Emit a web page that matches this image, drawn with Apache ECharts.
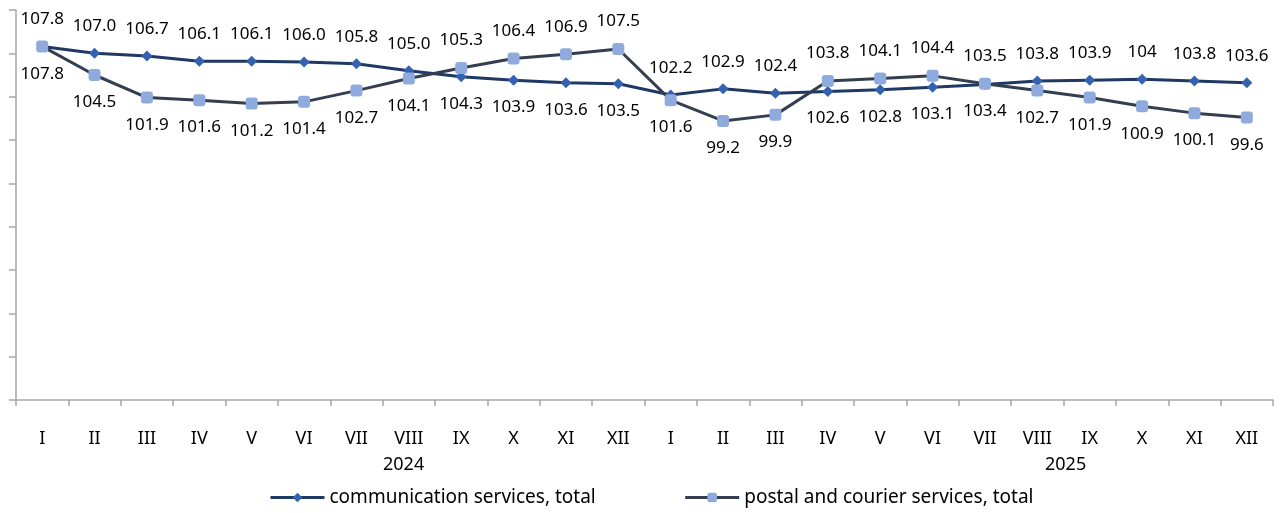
<!DOCTYPE html>
<html>
<head>
<meta charset="utf-8">
<script src="https://cdn.jsdelivr.net/npm/echarts@6/dist/echarts.min.js"></script>
<style>
  html, body { margin: 0; padding: 0; background: #fff; }
  #main { width: 1284px; height: 513px; }
</style>
</head>
<body>
<div id="main"></div>
<script>
var months = ['I', 'II', 'III', 'IV', 'V', 'VI', 'VII', 'VIII', 'IX', 'X', 'XI', 'XII'];
var years = ['2024', '2025'];

var commServices = [107.8, 107.0, 106.7, 106.1, 106.1, 106.0, 105.8, 105.0, 104.3, 103.9, 103.6, 103.5,
                    102.2, 102.9, 102.4, 102.6, 102.8, 103.1, 103.4, 103.8, 103.9, 104.0, 103.8, 103.6];
var postalServices = [107.8, 104.5, 101.9, 101.6, 101.2, 101.4, 102.7, 104.1, 105.3, 106.4, 106.9, 107.5,
                      101.6, 99.2, 99.9, 103.8, 104.1, 104.4, 103.5, 102.7, 101.9, 100.9, 100.1, 99.6];

var seriesNames = ['communication services, total', 'postal and courier services, total'];

// x categories kept unique (month + year), only the month is shown
var xData = [];
years.forEach(function (y) {
  months.forEach(function (m) { xData.push(m + ' ' + y); });
});

function fmt(v) {
  // the source prints 104.0 as "104"
  var s = v.toFixed(1);
  return s === '104.0' ? '104' : s;
}

// label above for the higher of the two series at each point
function buildData(vals, other, isFirst) {
  return vals.map(function (v, i) {
    var up = isFirst ? v >= other[i] : v > other[i];
    return { value: v, label: { position: up ? 'top' : 'bottom' } };
  });
}

var myChart = echarts.init(document.getElementById('main'));

var fontFam = '"Noto Sans", "Open Sans", sans-serif';

myChart.setOption({
  animation: false,
  textStyle: { fontFamily: fontFam },
  grid: { left: 16, right: 11, top: 10, bottom: 113, containLabel: false },
  legend: {
    bottom: 1,
    left: 264,
    itemWidth: 54,
    itemHeight: 12,
    itemGap: 88,
    lineStyle: { width: 3 },
    textStyle: { fontSize: 19, color: '#000', fontFamily: fontFam },
    data: seriesNames
  },
  xAxis: {
    type: 'category',
    data: xData,
    boundaryGap: true,
    axisLine: { lineStyle: { color: '#a6a6a6', width: 1.5 } },
    axisTick: { show: true, length: 6, lineStyle: { color: '#a6a6a6', width: 1.5 } },
    axisLabel: {
      interval: 0,
      margin: 30,
      fontSize: 18,
      color: '#000',
      formatter: function (v) { return v.split(' ')[0]; }
    }
  },
  yAxis: {
    type: 'value',
    min: 67,
    max: 112,
    interval: 5,
    axisLine: { show: true, lineStyle: { color: '#a6a6a6', width: 1.5 } },
    axisTick: { show: true, length: 7, lineStyle: { color: '#a6a6a6', width: 1.5 } },
    axisLabel: { show: false },
    splitLine: { show: false }
  },
  graphic: [
    { type: 'text', left: 383, top: 456, style: { text: years[0], fontSize: 18, fill: '#000', fontFamily: fontFam } },
    { type: 'text', left: 1045, top: 456, style: { text: years[1], fontSize: 18, fill: '#000', fontFamily: fontFam } }
  ],
  series: [
    {
      name: seriesNames[0],
      type: 'line',
      data: buildData(commServices, postalServices, true),
      symbol: 'diamond',
      symbolSize: 11,
      lineStyle: { color: '#1f3864', width: 3 },
      itemStyle: { color: '#3461b0' },
      label: {
        show: true,
        distance: 13,
        fontSize: 17,
        color: '#000',
        formatter: function (p) { return fmt(p.value); }
      },
      z: 2
    },
    {
      name: seriesNames[1],
      type: 'line',
      data: buildData(postalServices, commServices, false),
      symbol: 'roundRect',
      symbolSize: 12,
      lineStyle: { color: '#333f50', width: 3 },
      itemStyle: { color: '#8faadc' },
      label: {
        show: true,
        distance: 13,
        fontSize: 17,
        color: '#000',
        formatter: function (p) { return fmt(p.value); }
      },
      z: 3
    }
  ]
});
</script>
</body>
</html>
